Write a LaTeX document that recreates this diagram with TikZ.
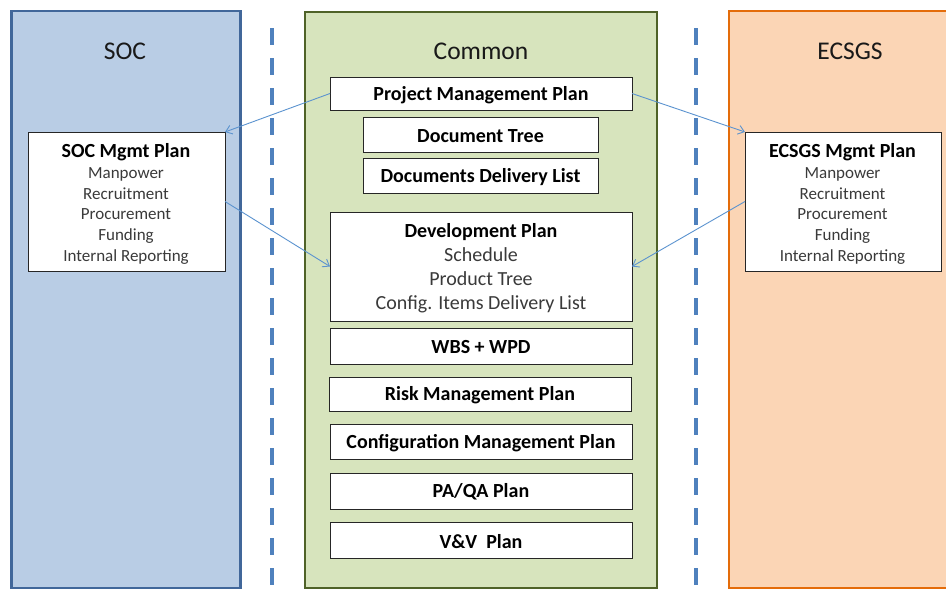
\documentclass[tikz,border=0pt]{standalone}
\usepackage{fontspec}
\setmainfont{Carlito}
\usetikzlibrary{arrows.meta}
\definecolor{socfill}{HTML}{B9CDE5}
\definecolor{socline}{HTML}{41679A}
\definecolor{comfill}{HTML}{D7E4BD}
\definecolor{comline}{HTML}{4F6228}
\definecolor{ecsfill}{HTML}{FBD5B5}
\definecolor{ecsline}{HTML}{E46C0A}
\definecolor{dashblue}{HTML}{4F81BD}
\definecolor{arrowblue}{HTML}{5B93CF}
\definecolor{subgrey}{HTML}{3A3A3A}
\begin{document}
\begin{tikzpicture}[x=1pt,y=-1pt,
  panel/.style={draw, line width=2.8pt, inner sep=0pt, outer sep=0pt},
  box/.style={draw=black!85, fill=white, line width=0.9pt, inner sep=0pt, outer sep=0pt},
  boxlabel/.style={font=\fontsize{20}{24}\selectfont\bfseries, text=black},
  title/.style={font=\fontsize{25.5}{30}\selectfont, text=black!90},
  sublist/.style={align=center, text=subgrey, font=\fontsize{17}{20.8}\selectfont},
  devlist/.style={align=center, text=subgrey, font=\fontsize{20}{24}\selectfont},
  dashline/.style={dashblue, line width=3.6pt, dash pattern=on 17pt off 13pt},
  conn/.style={arrowblue, line width=0.9pt, -{Straight Barb[length=6pt,width=9pt]}}
]
\useasboundingbox (0,0) rectangle (946,589);
% panels
\node[panel, draw=socline, fill=socfill, minimum width=229pt, minimum height=577pt] (soc) at (126,299.5) {};
\node[panel, draw=comline, fill=comfill, minimum width=352pt, minimum height=576pt] (com) at (481,300) {};
\node[panel, draw=ecsline, fill=ecsfill, minimum width=260pt, minimum height=577pt] (ecs) at (859,299.5) {};
% separators
\coordinate (d1t) at (272,28); \coordinate (d1b) at (272,592);
\coordinate (d2t) at (696,28); \coordinate (d2b) at (696,592);
\draw[dashline] (d1t) -- (d1b);
\draw[dashline] (d2t) -- (d2b);
% titles
\node[title] (soct) at (125,51) {SOC};
\node[title] (comt) at (481,51) {Common};
\node[title] (ecst) at (850,51) {ECSGS};
% common boxes
\node[box, minimum width=302pt, minimum height=33pt] (pmp) at (481,93.5) {};
\node[boxlabel] at ([yshift=-1.2pt]pmp.center) {Project Management Plan};
\node[box, minimum width=235pt, minimum height=35pt] (dt) at (480.5,134.5) {};
\node[boxlabel] at ([yshift=-1.2pt]dt.center) {Document Tree};
\node[box, minimum width=235pt, minimum height=35pt] (ddl) at (480.5,175.5) {};
\node[boxlabel] at ([yshift=-1.2pt]ddl.center) {Documents Delivery List};
\node[box, minimum width=302pt, minimum height=109pt] (dev) at (481,266.5) {};
\node[devlist] at (481,268) {{\bfseries\color{black}Development Plan}\\Schedule\\Product Tree\\Config. Items Delivery List};
\node[box, minimum width=302pt, minimum height=36pt] (wbs) at (481,346) {};
\node[boxlabel] at ([yshift=-1.2pt]wbs.center) {WBS + WPD};
\node[box, minimum width=302pt, minimum height=34pt] (risk) at (480,394) {};
\node[boxlabel] at ([yshift=-1.2pt]risk.center) {Risk Management Plan};
\node[box, minimum width=302pt, minimum height=35pt] (cfg) at (481,441.5) {};
\node[boxlabel] at ([yshift=-1.2pt]cfg.center) {Configuration Management Plan};
\node[box, minimum width=302pt, minimum height=36pt] (paqa) at (481,491) {};
\node[boxlabel] at ([yshift=-1.2pt]paqa.center) {PA/QA Plan};
\node[box, minimum width=302pt, minimum height=36pt] (vv) at (481,540) {};
\node[boxlabel] at ([yshift=-1.2pt]vv.center) {V\&V\ \ Plan};
% side boxes
\node[box, minimum width=197pt, minimum height=139pt] (socm) at (126.5,201.5) {};
\node[sublist] at (126,204) {{\fontsize{20}{24}\selectfont\bfseries\color{black}SOC Mgmt Plan}\\Manpower\\Recruitment\\Procurement\\Funding\\Internal Reporting};
\node[box, minimum width=196pt, minimum height=139pt] (ecsm) at (843,201.5) {};
\node[sublist] at (842.5,204) {{\fontsize{20}{24}\selectfont\bfseries\color{black}ECSGS Mgmt Plan}\\Manpower\\Recruitment\\Procurement\\Funding\\Internal Reporting};
% connectors
\draw[conn] (pmp.west) -- (socm.north east);
\draw[conn] (socm.east) -- (dev.west);
\draw[conn] (pmp.east) -- (ecsm.north west);
\draw[conn] (ecsm.west) -- (dev.east);
\end{tikzpicture}
\end{document}
